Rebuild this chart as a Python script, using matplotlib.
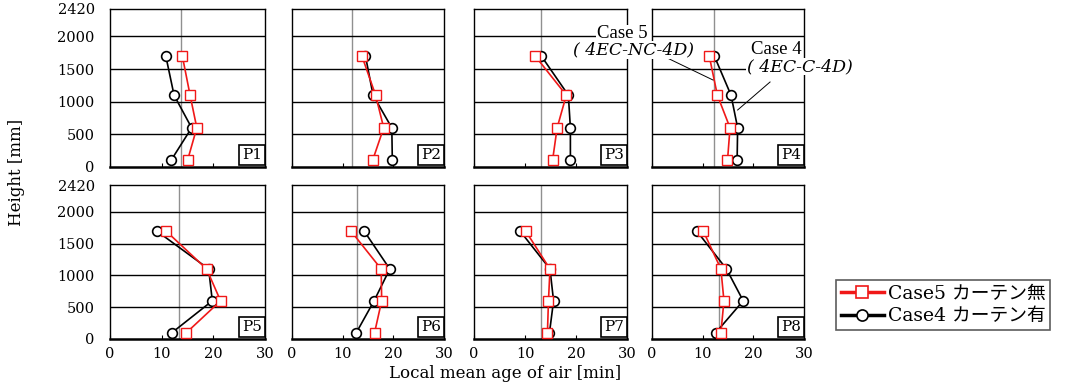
import numpy as np
import matplotlib
matplotlib.use('Agg')
import matplotlib.pyplot as plt
from matplotlib.lines import Line2D

plt.rcParams['font.family'] = ['DejaVu Serif', 'Noto Sans CJK JP']

# %% data
heights = [100, 600, 1100, 1700]
panels = ['P1', 'P2', 'P3', 'P4', 'P5', 'P6', 'P7', 'P8']
# Case5 (no curtain), Case4 (curtain) local mean age of air [min]
case5 = {
    'P1': [15.0, 16.8, 15.5, 14.0],
    'P2': [15.9, 18.1, 16.5, 13.8],
    'P3': [15.4, 16.3, 18.1, 12.0],
    'P4': [14.9, 15.4, 12.9, 11.3],
    'P5': [14.8, 21.4, 18.7, 10.8],
    'P6': [16.3, 17.7, 17.6, 11.6],
    'P7': [14.4, 14.6, 14.9, 10.1],
    'P8': [13.6, 14.2, 13.6, 10.1],
}
case4 = {
    'P1': [11.8, 15.8, 12.4, 10.8],
    'P2': [19.8, 19.7, 16.0, 14.5],
    'P3': [18.9, 18.9, 18.5, 13.2],
    'P4': [16.8, 16.9, 15.6, 12.3],
    'P5': [12.0, 19.8, 19.1, 9.0],
    'P6': [12.7, 16.2, 19.3, 14.2],
    'P7': [14.8, 15.6, 14.9, 9.0],
    'P8': [12.6, 18.0, 14.7, 8.8],
}
ref_line = {'P1': 13.7, 'P2': 11.8, 'P3': 13.2, 'P4': 12.3,
            'P5': 13.3, 'P6': 12.8, 'P7': 13.1, 'P8': 13.2}
yticks = [0, 500, 1000, 1500, 2000, 2420]
xticks = [0, 10, 20, 30]

# %% layout (pixel boxes -> figure fractions)
W, H = 1069, 387
cols = [(110, 265), (292, 444), (474, 627), (652, 804)]
rows = [(9, 167), (185, 339)]

fig = plt.figure(figsize=(W / 100, H / 100), dpi=100)
axes = {}
for r, (top, bot) in enumerate(rows):
    for c, (left, right) in enumerate(cols):
        name = panels[r * 4 + c]
        ax = fig.add_axes([left / W, 1 - bot / H, (right - left) / W, (bot - top) / H])
        axes[name] = ax

        ax.axvline(ref_line[name], color='#909090', lw=1.0, zorder=1)
        for yg in [500, 1000, 1500, 2000]:
            ax.axhline(yg, color='black', lw=1.0, zorder=1)

        ax.plot(case4[name], heights, '-o', color='black', lw=1.2,
                markersize=7, markerfacecolor='white', markeredgewidth=1.2, zorder=3)
        ax.plot(case5[name], heights, '-s', color='#f01818', lw=1.2,
                markersize=7.5, markerfacecolor='white', markeredgewidth=1.0, zorder=4)

        ax.set_xlim(0, 30)
        ax.set_ylim(0, 2420)
        ax.set_xticks(xticks)
        ax.set_yticks(yticks)
        ax.tick_params(axis='x', direction='in', length=3, labelsize=10.5, pad=6)
        ax.tick_params(axis='y', length=0, labelsize=10.5, pad=11)
        if c != 0:
            ax.set_yticklabels([])
        if r != 1:
            ax.set_xticklabels([])
        for s in ax.spines.values():
            s.set_linewidth(1.0)
        ax.spines['bottom'].set_linewidth(1.8)

        ax.text(0.98, 0.03, name, transform=ax.transAxes, ha='right', va='bottom',
                fontsize=11, zorder=6,
                bbox=dict(boxstyle='square,pad=0.2', fc='white', ec='black', lw=1.2))

# %% annotations on P4
ax4 = axes['P4']
ax4.plot([2.6, 12.05], [1685, 1332], color='black', lw=0.7, clip_on=False, zorder=5)
ax4.plot([23.3, 16.9], [1302, 873], color='black', lw=0.7, clip_on=False, zorder=5)
box = dict(boxstyle='square,pad=0.02', fc='white', ec='none')
ax4.text(-5.9, 2045, 'Case 5', ha='center', va='center', fontsize=13.5,
         family='Liberation Serif', bbox=box, clip_on=False, zorder=7)
ax4.text(-3.6, 1795, '( 4EC-NC-4D)', ha='center', va='center', fontsize=12.5,
         style='italic', bbox=box, clip_on=False, zorder=7)
ax4.text(24.6, 1800, 'Case 4', ha='center', va='center', fontsize=13.5,
         family='Liberation Serif', bbox=box, clip_on=False, zorder=7)
ax4.text(29.1, 1540, '( 4EC-C-4D)', ha='center', va='center', fontsize=12.5,
         style='italic', bbox=box, clip_on=False, zorder=7)

# %% labels and legend
fig.text(17 / W, 1 - 172 / H, 'Height [mm]', rotation=90, ha='center', va='center', fontsize=12)
fig.text(505 / W, 1 - 373 / H, 'Local mean age of air [min]', ha='center', va='center', fontsize=12)

handles = [
    Line2D([], [], color='#f01818', lw=2.5, marker='s', markersize=8,
           markerfacecolor='white', markeredgewidth=1.2),
    Line2D([], [], color='black', lw=2.5, marker='o', markersize=8,
           markerfacecolor='white', markeredgewidth=1.2),
]
leg = fig.legend(handles, ['Case5 カーテン無', 'Case4 カーテン有'],
                 loc='upper left', bbox_to_anchor=(836 / W, 1 - 280 / H),
                 borderaxespad=0, fontsize=13.5, frameon=True, fancybox=False,
                 handlelength=2.3, handletextpad=0.2, labelspacing=0.25,
                 borderpad=0.25)
leg.get_frame().set_edgecolor('#333333')
leg.get_frame().set_linewidth(1.2)

fig.savefig('out.png', dpi=100)
